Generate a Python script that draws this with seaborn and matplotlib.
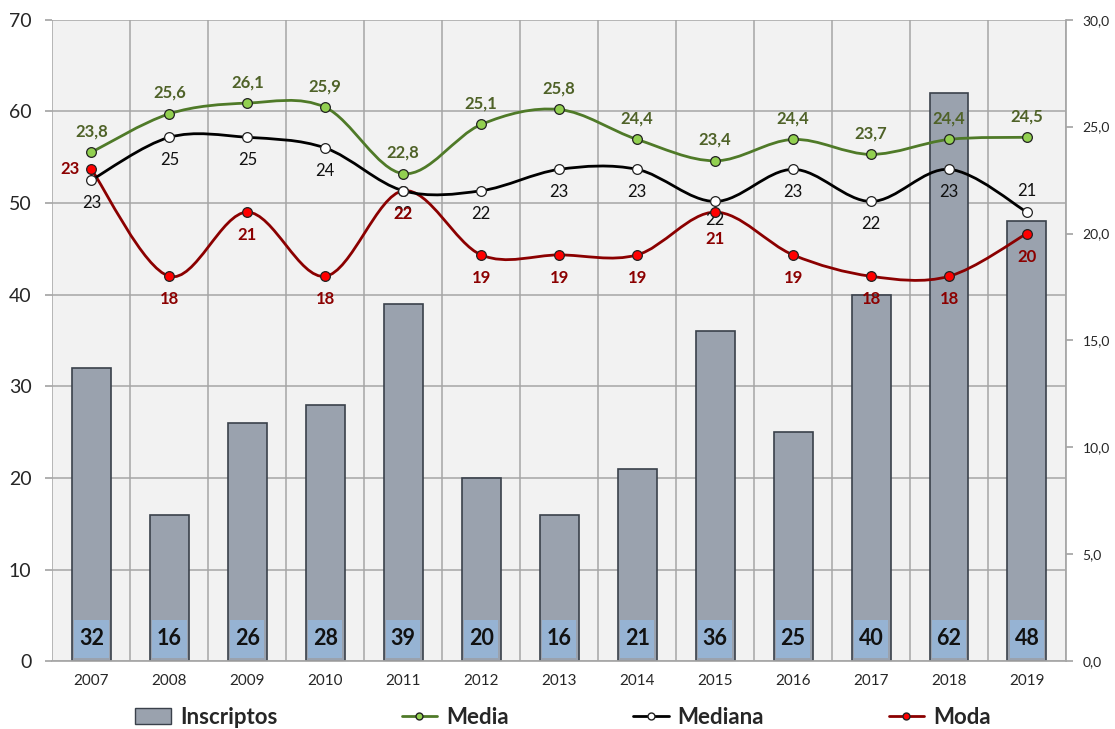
import matplotlib
matplotlib.use("Agg")
import matplotlib.pyplot as plt
import numpy as np
import pandas as pd
import seaborn as sns
from matplotlib.path import Path
from matplotlib.patches import PathPatch, Patch
from matplotlib.lines import Line2D

# --- data ---
years = ["2007", "2008", "2009", "2010", "2011", "2012", "2013",
         "2014", "2015", "2016", "2017", "2018", "2019"]
inscriptos = [32, 16, 26, 28, 39, 20, 16, 21, 36, 25, 40, 62, 48]
media = [23.8, 25.6, 26.1, 25.9, 22.8, 25.1, 25.8, 24.4, 23.4, 24.4, 23.7, 24.4, 24.5]
mediana = [22.5, 24.5, 24.5, 24.0, 22.0, 22.0, 23.0, 23.0, 21.5, 23.0, 21.5, 23.0, 21.0]
moda = [23, 18, 21, 18, 22, 19, 19, 19, 21, 19, 18, 18, 20]

FONT = "Lato"


def smooth_path(xs, ys):
    # Excel-like smoothed line drawn as a cubic bezier path through the points
    pts = np.column_stack([xs, ys]).astype(float)
    verts = [pts[0]]
    codes = [Path.MOVETO]
    n = len(pts)
    for i in range(n - 1):
        p0 = pts[max(i - 1, 0)]
        p1 = pts[i]
        p2 = pts[i + 1]
        p3 = pts[min(i + 2, n - 1)]
        c1 = p1 + (p2 - p0) / 6.0
        c2 = p2 - (p3 - p1) / 6.0
        verts += [c1, c2, p2]
        codes += [Path.CURVE4] * 3
    return Path(verts, codes)


def create_chart() -> None:
    sns.set_theme(style="white")
    plt.rcParams["font.family"] = [FONT, "DejaVu Sans"]

    df = pd.DataFrame({"year": years, "inscriptos": inscriptos})
    x = np.arange(len(years))

    fig = plt.figure(figsize=(11.15, 7.29), dpi=100)
    ax = fig.add_axes([0.047, 0.093, 0.909, 0.880])
    ax.set_facecolor("#F2F2F2")

    sns.barplot(data=df, x="year", y="inscriptos", ax=ax, color="#9AA2AE",
                edgecolor="#3A414B", linewidth=1.2, width=0.5, saturation=1,
                zorder=2)

    # blue label boxes at the foot of each bar
    ax.bar(x, [4.1] * len(x), width=0.44, bottom=0.4, color="#96B3D3",
           zorder=3, linewidth=0)
    for xi, v in zip(x, inscriptos):
        ax.text(xi, 2.45, str(v), ha="center", va="center", fontsize=15.5,
                fontweight="bold", color="#111111", zorder=4)

    ax.set_xlim(-0.5, len(years) - 0.5)
    ax.set_ylim(0, 70)
    ax.set_yticks(range(0, 71, 10))
    ax.set_xticks(x)
    ax.set_xticks(np.arange(-0.5, len(years), 1.0), minor=True)
    ax.set_xlabel("")
    ax.set_ylabel("")
    ax.grid(axis="y", which="major", color="#A6A6A6", linewidth=1.1, zorder=0)
    ax.grid(axis="x", which="minor", color="#A6A6A6", linewidth=1.1, zorder=0)
    ax.set_axisbelow(True)
    ax.tick_params(axis="x", which="major", length=0, labelsize=11, pad=9)
    ax.tick_params(axis="x", which="minor", length=5, color="#A6A6A6",
                   direction="out")
    ax.tick_params(axis="y", length=5, color="#A6A6A6", labelsize=14,
                   direction="out", pad=10)
    for s in ["top", "right", "left"]:
        ax.spines[s].set_visible(False)
    ax.spines["bottom"].set_color("#A6A6A6")

    ax2 = ax.twinx()
    ax2.set_ylim(0, 30)
    ax2.set_yticks(range(0, 31, 5))
    ax2.set_yticklabels([f"{t},0" for t in range(0, 31, 5)])
    ax2.tick_params(axis="y", length=5, color="#A6A6A6", labelsize=10,
                    direction="out", pad=7)
    for s in ["top", "left", "bottom"]:
        ax2.spines[s].set_visible(False)
    ax2.spines["right"].set_color("#A6A6A6")
    ax2.grid(False)

    series = [
        (moda, "#8B0000", "#FF0000"),
        (mediana, "#000000", "#FFFFFF"),
        (media, "#4F7A28", "#92D050"),
    ]
    for vals, lc, mc in series:
        ax2.add_patch(PathPatch(smooth_path(x, vals), facecolor="none",
                                edgecolor=lc, linewidth=2, zorder=3))
        ax2.plot(x, vals, linestyle="none", marker="o", markersize=7,
                 markerfacecolor=mc, markeredgecolor="#222222",
                 markeredgewidth=0.9, zorder=4)

    # data labels
    for xi, v in zip(x, media):
        ax2.annotate(f"{v:.1f}".replace(".", ","), (xi, v), xytext=(0, 21),
                     textcoords="offset pixels", ha="center", va="center",
                     fontsize=12, fontweight="bold", color="#4F6228")
    for i, (xi, v) in enumerate(zip(x, mediana)):
        if i == len(x) - 1:
            dy = 21
        elif years[i] == "2015":
            dy = -19
        else:
            dy = -23
        ax2.annotate(str(int(v + 0.5)), (xi, v), xytext=(0, dy),
                     textcoords="offset pixels", ha="center", va="center",
                     fontsize=12, color="#111111")
    for i, (xi, v) in enumerate(zip(x, moda)):
        if i == 0:
            off = (-21, 0)
        elif years[i] == "2015":
            off = (0, -27)
        else:
            off = (0, -23)
        ax2.annotate(str(v), (xi, v), xytext=off, textcoords="offset pixels",
                     ha="center", va="center", fontsize=12,
                     fontweight="bold", color="#8B0000")

    handles = [
        Patch(facecolor="#9AA2AE", edgecolor="#3A414B", label="Inscriptos"),
        Line2D([0], [0], color="#4F7A28", lw=2, marker="o", markersize=5,
               markerfacecolor="#92D050", markeredgecolor="#222222",
               label="Media"),
        Line2D([0], [0], color="#000000", lw=2, marker="o", markersize=5,
               markerfacecolor="#FFFFFF", markeredgecolor="#222222",
               label="Mediana"),
        Line2D([0], [0], color="#8B0000", lw=2, marker="o", markersize=5,
               markerfacecolor="#FF0000", markeredgecolor="#222222",
               label="Moda"),
    ]
    fig.legend(handles=handles, loc="center", ncol=4,
               bbox_to_anchor=(0.505, 1 - 717 / 729), frameon=False,
               prop={"family": [FONT, "DejaVu Sans"], "size": 16,
                     "weight": "bold"},
               columnspacing=5.6, handlelength=1.6, handletextpad=0.4)

    fig.savefig("out.png", dpi=100)


if __name__ == "__main__":
    create_chart()
